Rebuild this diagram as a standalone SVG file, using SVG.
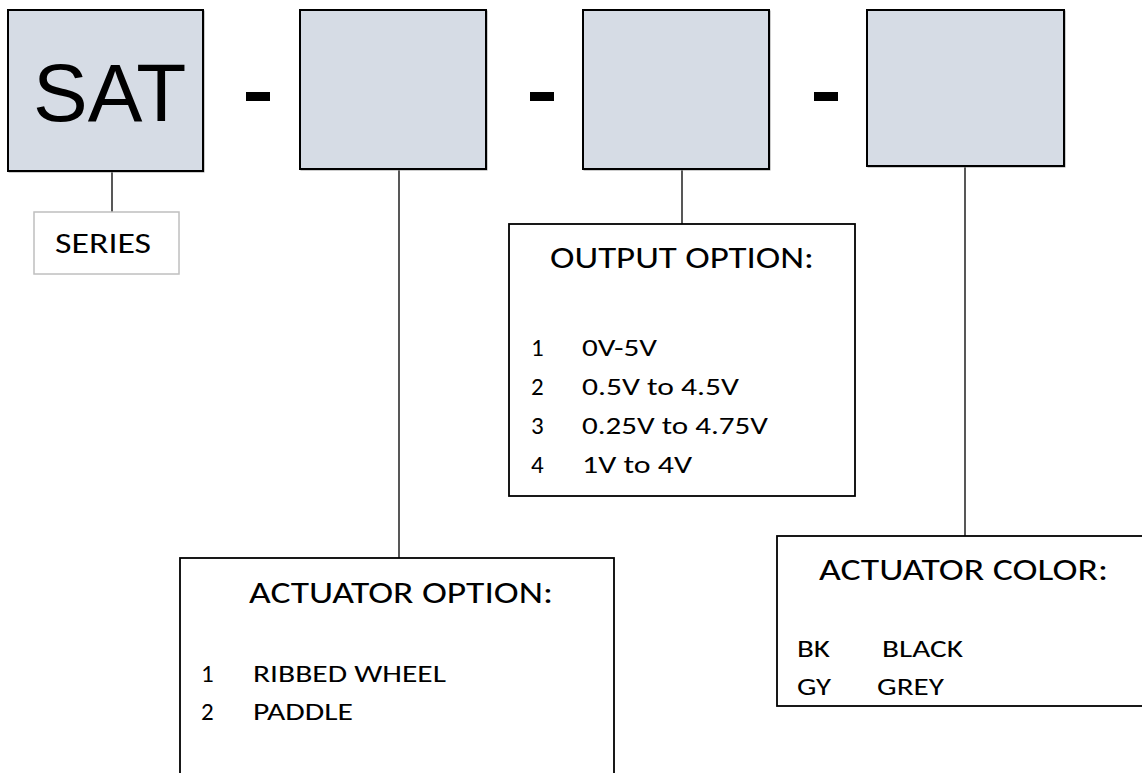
<svg xmlns="http://www.w3.org/2000/svg" width="1142" height="773" viewBox="0 0 1142 773">
<style>
.code{fill:#d6dce5;stroke:#000;stroke-width:2}
.shadow{fill:none;stroke:#9a9a9a;stroke-width:1}
.box{fill:#fff;stroke:#000;stroke-width:1.8}
.sbox{fill:#fff;stroke:#bfbfbf;stroke-width:1.5}
.conn{stroke:#111;stroke-width:1.4;fill:none}
.dash{fill:#000}
.t{font-family:Carlito,Lato,"Open Sans","Liberation Sans",sans-serif;fill:#000}
.title{font-size:31px}
.item{font-size:25px}
.big{font-family:"Liberation Sans",Arial,sans-serif;font-size:82px;fill:#000}
</style>
<rect width="1142" height="773" fill="#fff"/>
<g id="connectors">
<line class="conn" x1="112" y1="171" x2="112" y2="212"/>
<line class="conn" x1="399" y1="169" x2="399" y2="558"/>
<line class="conn" x1="682" y1="163" x2="682" y2="224"/>
<line class="conn" x1="965" y1="166" x2="965" y2="536"/>
</g>
<g id="sat">
<rect class="shadow" x="9" y="11" width="195" height="161"/>
<rect class="code" x="8" y="10" width="195" height="161"/>
<text class="big" x="33" y="121">SAT</text>
</g>
<g id="dash1"><rect class="dash" x="246" y="92" width="24" height="9"/></g>
<g id="box-actuator">
<rect class="shadow" x="301" y="11" width="186" height="159"/>
<rect class="code" x="300" y="10" width="186" height="159"/>
</g>
<g id="dash2"><rect class="dash" x="530" y="92" width="24" height="9"/></g>
<g id="box-output">
<rect class="shadow" x="584" y="11" width="186" height="159"/>
<rect class="code" x="583" y="10" width="186" height="159"/>
</g>
<g id="dash3"><rect class="dash" x="814" y="92" width="24" height="9"/></g>
<g id="box-color">
<rect class="shadow" x="868" y="11" width="197" height="156"/>
<rect class="code" x="867" y="10" width="197" height="156"/>
</g>
<g id="series">
<rect class="sbox" x="34" y="212" width="145" height="62"/>
<text class="t" x="55" y="253" font-size="28" textLength="96" lengthAdjust="spacingAndGlyphs">SERIES</text>
</g>
<g id="output-option">
<rect class="box" x="509" y="224" width="346" height="272"/>
<text class="t title" x="550" y="268" textLength="264" lengthAdjust="spacingAndGlyphs">OUTPUT OPTION:</text>
<text class="t item" x="531" y="356">1</text>
<text class="t item" x="582" y="356" textLength="75" lengthAdjust="spacingAndGlyphs">0V-5V</text>
<text class="t item" x="531" y="395">2</text>
<text class="t item" x="582" y="395" textLength="157" lengthAdjust="spacingAndGlyphs">0.5V to 4.5V</text>
<text class="t item" x="531" y="434">3</text>
<text class="t item" x="582" y="434" textLength="186" lengthAdjust="spacingAndGlyphs">0.25V to 4.75V</text>
<text class="t item" x="531" y="473">4</text>
<text class="t item" x="582" y="473" textLength="110" lengthAdjust="spacingAndGlyphs">1V to 4V</text>
</g>
<g id="actuator-option">
<rect class="box" x="180" y="558" width="434" height="230"/>
<text class="t title" x="249" y="603" textLength="304" lengthAdjust="spacingAndGlyphs">ACTUATOR OPTION:</text>
<text class="t item" x="201" y="682">1</text>
<text class="t item" x="253" y="682" textLength="193" lengthAdjust="spacingAndGlyphs">RIBBED WHEEL</text>
<text class="t item" x="201" y="720">2</text>
<text class="t item" x="253" y="720" textLength="100" lengthAdjust="spacingAndGlyphs">PADDLE</text>
</g>
<g id="actuator-color">
<rect class="box" x="777" y="536" width="380" height="170"/>
<text class="t title" x="819" y="580" textLength="289" lengthAdjust="spacingAndGlyphs">ACTUATOR COLOR:</text>
<text class="t item" x="797" y="657" textLength="33" lengthAdjust="spacingAndGlyphs">BK</text>
<text class="t item" x="882" y="657" textLength="81" lengthAdjust="spacingAndGlyphs">BLACK</text>
<text class="t item" x="797" y="695" textLength="34" lengthAdjust="spacingAndGlyphs">GY</text>
<text class="t item" x="877" y="695" textLength="67" lengthAdjust="spacingAndGlyphs">GREY</text>
</g>
</svg>
